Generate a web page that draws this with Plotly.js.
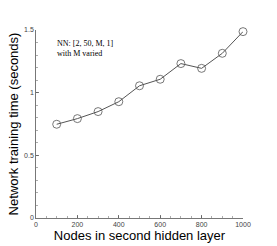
<!DOCTYPE html>
<html>
<head>
<meta charset="utf-8">
<script src="https://cdn.plot.ly/plotly-3.0.1.min.js"></script>
<style>html,body{margin:0;padding:0;background:#fff;}#chart{width:277px;height:246px;}</style>
</head>
<body>
<div id="chart"></div>
<script>
var nodes = [100, 200, 300, 400, 500, 600, 700, 800, 900, 1000];
var trainTime = [0.748, 0.793, 0.849, 0.928, 1.055, 1.107, 1.232, 1.194, 1.314, 1.487];
var xTicks = [0, 200, 400, 600, 800, 1000];
var yTicks = [0, 0.5, 1, 1.5];
var yTickText = ['0', '0.5', '1', '1.5'];

var trace = {
  x: nodes, y: trainTime, type: 'scatter', mode: 'lines+markers', cliponaxis: false,
  line: {color: '#555555', width: 1},
  marker: {symbol: 'circle-open', size: 8, color: '#555555', line: {width: 0.8, color: '#555555'}},
  showlegend: false
};
var layout = {
  width: 277, height: 246,
  margin: {l: 36, r: 34, t: 30, b: 28},
  paper_bgcolor: '#fff', plot_bgcolor: '#fff',
  font: {family: 'Liberation Sans, Arial, sans-serif', color: '#000'},
  xaxis: {
    range: [0, 1000], tickvals: xTicks, ticktext: xTicks.map(String),
    ticks: 'inside', ticklen: 3, tickwidth: 0.8, tickcolor: '#555',
    minor: {dtick: 50, ticks: 'inside', ticklen: 2, tickcolor: '#777', tickwidth: 0.6},
    showline: true, linecolor: '#555', linewidth: 0.8, showgrid: false, zeroline: false,
    tickfont: {size: 7, color: '#444'},
    title: {text: 'Nodes in second hidden layer', font: {size: 13, color: '#000'}, standoff: 1}
  },
  yaxis: {
    range: [0, 1.5], tickvals: yTicks, ticktext: yTickText,
    ticks: 'inside', ticklen: 3, tickwidth: 0.8, tickcolor: '#555',
    minor: {dtick: 0.1, ticks: 'inside', ticklen: 2, tickcolor: '#777', tickwidth: 0.6},
    showline: true, linecolor: '#555', linewidth: 0.8, showgrid: false, zeroline: false,
    tickfont: {size: 7, color: '#444'},
    title: {text: 'Network training time (seconds)', font: {size: 13, color: '#000'}, standoff: 2}
  },
  annotations: [{
    xref: 'paper', yref: 'paper', x: 0.09, y: 0.965, xanchor: 'left', yanchor: 'top',
    text: 'NN: [2, 50, M, 1]<br>with M varied', align: 'left', showarrow: false,
    font: {family: 'Liberation Serif, Times New Roman, serif', size: 8, color: '#000'}
  }]
};
Plotly.newPlot('chart', [trace], layout, {displayModeBar: false, staticPlot: true});
</script>
</body>
</html>
